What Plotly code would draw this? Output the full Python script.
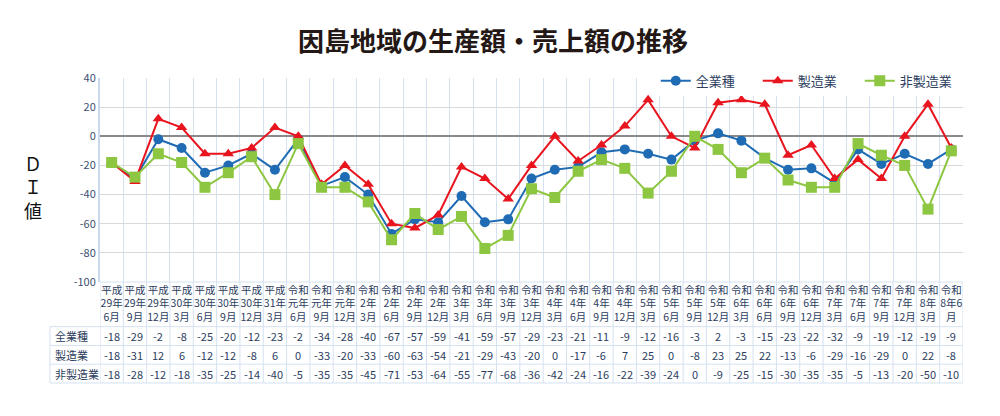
import plotly.graph_objects as go

# 調査時点 (表の見出し行)
periods = [
    "平成<br>29年<br>6月", "平成<br>29年<br>9月", "平成<br>29年<br>12月", "平成<br>30年<br>3月",
    "平成<br>30年<br>6月", "平成<br>30年<br>9月", "平成<br>30年<br>12月", "平成<br>31年<br>3月",
    "令和<br>元年<br>6月", "令和<br>元年<br>9月", "令和<br>元年<br>12月", "令和<br>2年<br>3月",
    "令和<br>2年<br>6月", "令和<br>2年<br>9月", "令和<br>2年<br>12月", "令和<br>3年<br>3月",
    "令和<br>3年<br>6月", "令和<br>3年<br>9月", "令和<br>3年<br>12月", "令和<br>4年<br>3月",
    "令和<br>4年<br>6月", "令和<br>4年<br>9月", "令和<br>4年<br>12月", "令和<br>5年<br>3月",
    "令和<br>5年<br>6月", "令和<br>5年<br>9月", "令和<br>5年<br>12月", "令和<br>6年<br>3月",
    "令和<br>6年<br>6月", "令和<br>6年<br>9月", "令和<br>6年<br>12月", "令和<br>7年<br>3月",
    "令和<br>7年<br>6月", "令和<br>7年<br>9月", "令和<br>7年<br>12月", "令和<br>8年<br>3月",
    "令和<br>8年6<br>月",
]

all_industries = [-18, -29, -2, -8, -25, -20, -12, -23, -2, -34, -28, -40, -67, -57, -59, -41, -59, -57, -29,
                  -23, -21, -11, -9, -12, -16, -3, 2, -3, -15, -23, -22, -32, -9, -19, -12, -19, -9]
manufacturing = [-18, -31, 12, 6, -12, -12, -8, 6, 0, -33, -20, -33, -60, -63, -54, -21, -29, -43, -20,
                 0, -17, -6, 7, 25, 0, -8, 23, 25, 22, -13, -6, -29, -16, -29, 0, 22, -8]
non_manufacturing = [-18, -28, -12, -18, -35, -25, -14, -40, -5, -35, -35, -45, -71, -53, -64, -55, -77, -68, -36,
                     -42, -24, -16, -22, -39, -24, 0, -9, -25, -15, -30, -35, -35, -5, -13, -20, -50, -10]

series_names = ["全業種", "製造業", "非製造業"]
series_values = [all_industries, manufacturing, non_manufacturing]
series_colors = ["#1f6cb5", "#e8141e", "#8dc641"]
series_symbols = ["circle", "triangle-up", "square"]

y_ticks = list(range(-100, 41, 20))

FONT = "Noto Sans CJK JP"
TEXT_BLUE = "#2c3d5e"
TABLE_LINE = "#d5e1f1"

fig = go.Figure()

for name, vals, color, symbol in zip(series_names, series_values, series_colors, series_symbols):
    fig.add_trace(go.Scatter(
        x = periods,
        y = vals,
        name = name,
        mode = "lines+markers",
        line = dict(color = color, width = 2),
        marker = dict(symbol = symbol, size = 10 if symbol != "square" else 11, color = color),
    ))

# 表の行 (y は paper 座標)
row_y = [-0.265, -0.357, -0.449]
row_edges = [0, -0.219, -0.311, -0.403, -0.495]
head_x0 = -0.058

annotations = []
for name, vals, ry in zip(series_names, series_values, row_y):
    annotations.append(dict(
        x = head_x0 + 0.004, y = ry, xref = "paper", yref = "paper",
        text = name, showarrow = False, xanchor = "left", yanchor = "middle",
        font = dict(family = FONT, size = 11, color = TEXT_BLUE),
    ))
    for p, v in zip(periods, vals):
        annotations.append(dict(
            x = p, y = ry, xref = "x", yref = "paper",
            text = str(v), showarrow = False, xanchor = "center", yanchor = "middle",
            font = dict(family = FONT, size = 11, color = TEXT_BLUE),
        ))

annotations.append(dict(
    x = -0.09, y = 0.466, xref = "paper", yref = "paper",
    text = "Ｄ<br>Ｉ<br>値", showarrow = False, align = "center",
    font = dict(family = FONT, size = 18, color = "#111111"),
))

shapes = []
for i in range(len(periods) + 1):
    shapes.append(dict(
        type = "line", xref = "x", yref = "paper",
        x0 = i - 0.5, x1 = i - 0.5, y0 = 0, y1 = row_edges[-1],
        line = dict(color = TABLE_LINE, width = 1),
    ))
shapes.append(dict(
    type = "line", xref = "paper", yref = "paper",
    x0 = 0, x1 = 1, y0 = 0, y1 = 0,
    line = dict(color = TABLE_LINE, width = 1),
))
for e in row_edges[1:]:
    shapes.append(dict(
        type = "line", xref = "paper", yref = "paper",
        x0 = head_x0, x1 = 1, y0 = e, y1 = e,
        line = dict(color = TABLE_LINE, width = 1),
    ))
shapes.append(dict(
    type = "line", xref = "paper", yref = "paper",
    x0 = head_x0, x1 = head_x0, y0 = row_edges[1], y1 = row_edges[-1],
    line = dict(color = TABLE_LINE, width = 1),
))

fig.update_layout(
    width = 1000,
    height = 416,
    margin = dict(l = 100, r = 37, t = 78, b = 134, autoexpand = False),
    paper_bgcolor = "white",
    plot_bgcolor = "white",
    font = dict(family = FONT, color = TEXT_BLUE),
    title = dict(
        text = "<b>因島地域の生産額・売上額の推移</b>",
        x = 0.493, y = 0.9, xanchor = "center", yanchor = "middle",
        font = dict(family = FONT, size = 26, color = "#231815"),
    ),
    showlegend = True,
    legend = dict(
        orientation = "h",
        x = 0.644, y = 1.06, xanchor = "left", yanchor = "top",
        bgcolor = "white",
        font = dict(family = FONT, size = 13, color = "#2c3d5e"),
        itemwidth = 30,
        entrywidth = 57,
    ),
    xaxis = dict(
        type = "category",
        range = [-0.5, len(periods) - 0.5],
        tickson = "boundaries",
        showgrid = True,
        gridcolor = TABLE_LINE,
        gridwidth = 1,
        ticks = "",
        showline = False,
        tickangle = 0,
        automargin = False,
        tickfont = dict(family = FONT, size = 10.5, color = TEXT_BLUE),
        fixedrange = True,
    ),
    yaxis = dict(
        range = [-100, 40],
        tickvals = y_ticks,
        ticktext = [str(v) for v in y_ticks],
        showgrid = True,
        gridcolor = "#d9d9d9",
        gridwidth = 1,
        zeroline = True,
        zerolinecolor = "#8a8a8a",
        zerolinewidth = 1.5,
        showline = True,
        linecolor = "#c9d8ec",
        linewidth = 2,
        ticks = "",
        automargin = False,
        tickfont = dict(family = FONT, size = 11, color = "#3c4f73"),
        fixedrange = True,
    ),
    annotations = annotations,
    shapes = shapes,
)

fig.write_html(
    "out.html",
    config = {"displayModeBar": False},
    post_script = "document.body.style.margin = '0';",
)
